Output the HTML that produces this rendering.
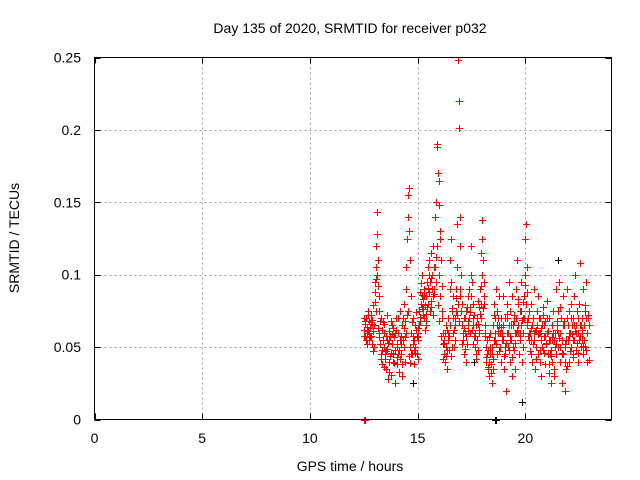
<!DOCTYPE html>
<html><head><meta charset="utf-8"><style>
body{margin:0;background:#fff}
svg{display:block;font-family:"Liberation Sans",sans-serif}
</style></head><body>
<svg id="chart" width="640" height="480" viewBox="0 0 640 480">
<rect width="640" height="480" fill="#fff"/>
<g id="grid"></g>
<g id="marks"></g>
<rect x="94.5" y="57.5" width="517" height="362" fill="none" stroke="#000" stroke-width="1"/>
<g id="ticks"></g>
<text x="350" y="33" font-size="14" text-anchor="middle">Day 135 of 2020, SRMTID for receiver p032</text>
<text x="350" y="471" font-size="14" text-anchor="middle">GPS time / hours</text>
<text x="19" y="238" font-size="14" text-anchor="middle" transform="rotate(-90 19 238)">SRMTID / TECUs</text>
</svg>
<script>
const xTicks=[0,5,10,15,20];
const yTicks=[0,0.05,0.1,0.15,0.2,0.25];
const yTickLabels=["0","0.05","0.1","0.15","0.2","0.25"];
const redTimes=[12.52,12.55,12.58,12.61,12.64,12.67,12.70,12.73,12.76,12.79,12.82,12.85,12.88,12.91,12.94,12.97,
13.00,13.03,13.06,13.09,13.11,13.13,13.15,13.17,13.19,13.21,13.24,13.27,13.30,13.33,13.36,13.39,
13.42,13.45,13.48,13.51,13.54,13.57,13.6,13.63,13.66,13.69,13.72,13.75,13.78,13.81,13.84,13.87,13.9,13.93,13.96,13.99,14.02,14.05,14.08,14.11,14.14,14.17,
14.2,14.23,14.26,14.29,14.32,14.35,14.38,14.41,14.44,14.47,14.5,14.53,14.56,14.59,14.62,14.65,14.68,
14.71,14.74,14.77,14.8,14.83,14.86,14.89,14.92,14.95,14.98,15.01,15.04,15.07,15.1,15.13,15.16,15.19,15.22,15.25,15.28,15.31,15.34,15.37,15.4,15.43,15.46,15.49,
15.52,15.55,15.58,15.61,15.64,15.67,15.7,15.73,15.76,15.79,15.82,15.85,15.88,15.91,15.94,15.97,16.0,16.03,16.06,16.09,16.12,16.15,16.18,16.21,16.24,16.27,16.3,16.33,16.36,16.39,16.42,16.45,16.48,
16.51,16.54,16.57,16.6,16.63,16.66,16.69,16.72,16.75,16.78,16.81,16.84,16.87,16.9,16.93,16.96,16.99,17.02,17.05,17.08,17.11,17.14,17.17,17.2,17.23,17.26,17.29,17.32,17.35,17.38,17.41,17.44,17.47,
17.5,17.53,17.56,17.59,17.62,17.65,17.68,17.71,17.74,17.77,17.8,17.83,17.86,17.89,17.92,17.95,17.98,18.01,18.04,18.07,18.1,18.13,18.16,18.19,18.22,18.25,18.28,18.31,18.34,18.37,18.4,18.43,18.46,18.49,18.52,18.55,18.58,18.61,18.64,18.67,18.7,18.73,18.76,
18.8,18.83,18.86,18.89,18.92,18.95,18.98,19.01,19.04,19.07,19.1,19.13,19.16,19.19,19.22,19.25,19.28,19.31,19.34,19.37,19.4,19.43,19.46,19.49,19.52,19.55,19.58,19.61,19.64,19.67,19.7,19.73,19.76,19.79,19.82,19.85,19.88,19.91,19.94,19.97,20.0,20.03,20.06,20.09,20.12,20.15,20.18,
20.21,20.24,20.27,20.3,20.33,20.36,20.39,20.42,20.45,20.48,20.51,20.54,20.57,20.6,20.63,20.66,20.69,20.72,20.75,20.78,20.81,20.84,20.87,20.9,20.93,20.96,20.99,21.02,21.05,21.08,21.11,21.14,21.17,21.2,21.23,21.26,21.29,21.32,21.35,21.38,21.41,21.44,21.47,
21.5,21.53,21.56,21.59,21.62,21.65,21.68,21.71,21.74,21.77,21.8,21.83,21.86,21.89,21.92,21.95,21.98,22.01,22.04,22.07,22.1,22.13,22.16,22.19,22.22,22.25,22.28,22.31,22.34,22.37,22.4,22.43,22.46,22.49,22.52,22.55,22.58,22.61,22.64,22.67,22.7,22.73,22.76,22.79,22.82,22.85,22.88,22.91];
const redValues=[.062,.066,.058,.070,.064,.060,.075,.068,.055,.063,.072,.058,.066,.061,.079,.050,
.088,.095,.105,.12,.143,.128,.11,.092,.075,.085,.068,.052,.045,.062,.038,.055,
.05,.066,.042,.058,.035,.072,.049,.028,.061,.055,.044,.068,.031,.052,.04,.063,.057,.025,.048,.07,.038,.052,.045,.06,.033,.055,
.075,.045,.065,.03,.055,.08,.05,.068,.09,.105,.125,.14,.155,.16,.13,.11,.085,
.06,.045,.07,.052,.038,.065,.05,.074,.045,.058,.042,.06,.075,.088,.068,.094,.078,.1,.083,.07,.09,.062,.085,.073,.095,.08,.105,
.088,.11,.095,.115,.078,.1,.085,.12,.09,.14,.105,.15,.19,.188,.17,.165,.148,.13,.125,.11,.092,.075,.06,.045,.055,.04,.065,.05,.035,.06,.07,.048,.09,
.11,.125,.095,.075,.06,.085,.05,.07,.065,.09,.105,.135,.248,.22,.201,.14,.12,.1,.08,.065,.055,.07,.045,.06,.04,.075,.052,.085,.068,.09,.078,.06,.1,
.12,.095,.08,.065,.072,.05,.06,.045,.07,.055,.082,.062,.078,.09,.07,.115,.138,.125,.11,.095,.08,.065,.05,.04,.055,.035,.048,.03,.045,.06,.038,.025,.05,.035,.065,.08,.07,.055,.09,.045,.075,.06,.085,
.065,.05,.07,.04,.06,.085,.055,.035,.07,.045,.02,.06,.08,.05,.095,.065,.04,.075,.055,.085,.03,.065,.048,.072,.035,.06,.09,.11,.08,.06,.045,.075,.055,.095,.065,.04,.07,.05,.085,.1,.125,.135,.105,.088,.07,.055,.075,
.06,.045,.08,.065,.04,.07,.055,.09,.035,.062,.05,.075,.045,.085,.06,.04,.07,.055,.03,.065,.048,.078,.058,.038,.068,.052,.082,.06,.045,.07,.032,.055,.025,.048,.065,.04,.075,.055,.03,.06,.045,.09,.068,
.05,.075,.095,.06,.04,.07,.025,.055,.085,.045,.065,.02,.05,.035,.07,.09,.055,.04,.075,.06,.08,.05,.065,.045,.07,.085,.055,.1,.065,.048,.075,.06,.04,.08,.065,.108,.05,.07,.055,.09,.045,.065,.075,.05,.095,.06,.04,.07];
const redTimes2=[12.53,12.6,12.68,12.75,12.83,12.9,12.98,13.05,13.12,13.2,13.28,13.35,13.44,13.5,13.58,13.65,13.73,13.8,13.88,13.95,14.03,14.1,14.18,14.25,14.33,14.4,14.48,14.55,14.63,14.7,14.78,14.85,14.93,15.0,15.08,15.15,15.23,15.3,15.38,15.45,15.53,15.6,15.68,15.75,15.83,15.9,15.98,16.05,16.13,16.2,16.28,16.35,16.43,16.5,16.58,16.65,16.73,16.8,16.88,16.95,17.03,17.1,17.18,17.25,17.33,17.4,17.48,17.55,17.63,17.7,17.78,17.85,17.93,18.0,18.08,18.15,18.23,18.3,18.38,18.45,18.53,18.6,18.68,18.75,18.83,18.9,18.98,19.05,19.13,19.2,19.28,19.35,19.43,19.5,19.58,19.65,19.73,19.8,19.88,19.95,20.03,20.1,20.18,20.25,20.33,20.4,20.48,20.55,20.63,20.7,20.78,20.85,20.93,21.0,21.08,21.15,21.23,21.3,21.38,21.45,21.53,21.6,21.68,21.75,21.83,21.9,21.98,22.05,22.13,22.2,22.28,22.35,22.43,22.5,22.58,22.65,22.73,22.8,22.88,22.95];
const redValues2=[.07,.055,.072,.06,.067,.052,.065,.075,.1,.06,.07,.048,.06,.045,.055,.04,.058,.065,.045,.06,.05,.07,.042,.058,.07,.04,.06,.075,.05,.045,.058,.048,.062,.055,.065,.08,.072,.085,.068,.078,.1,.082,.09,.105,.095,.12,.1,.085,.07,.052,.06,.048,.055,.065,.05,.07,.055,.075,.08,.09,.075,.06,.07,.058,.065,.07,.085,.07,.058,.065,.048,.06,.08,.1,.085,.06,.045,.04,.05,.045,.055,.06,.065,.07,.06,.055,.065,.05,.07,.06,.055,.065,.05,.06,.07,.065,.06,.075,.06,.07,.08,.065,.06,.055,.065,.06,.05,.065,.07,.06,.05,.065,.058,.07,.055,.045,.055,.06,.05,.065,.06,.05,.045,.065,.04,.055,.065,.06,.07,.055,.065,.06,.07,.055,.065,.06,.055,.07,.06,.065];
const redTimes3=[12.5,12.57,12.63,12.71,12.78,12.86,12.93,13.02,13.08,13.16,13.23,13.31,13.38,13.46,13.53,13.61,13.68,13.76,13.83,13.91,13.98,14.06,14.13,14.21,14.28,14.36,14.43,14.51,14.58,14.66,14.73,14.81,14.88,14.96,15.03,15.11,15.18,15.26,15.33,15.41,15.48,15.56,15.63,15.71,15.78,15.86,15.93,16.01,16.08,16.16,16.23,16.31,16.38,16.46,16.53,16.61,16.68,16.76,16.83,16.91,16.98,17.06,17.13,17.21,17.28,17.36,17.43,17.51,17.58,17.66,17.73,17.81,17.88,17.96,18.03,18.11,18.18,18.26,18.33,18.41,18.48,18.56,18.63,18.71,18.78,18.86,18.93,19.01,19.08,19.16,19.23,19.31,19.38,19.46,19.53,19.61,19.68,19.76,19.83,19.91,19.98,20.06,20.13,20.21,20.28,20.36,20.43,20.51,20.58,20.66,20.73,20.81,20.88,20.96,21.03,21.11,21.18,21.26,21.33,21.41,21.48,21.56,21.63,21.71,21.78,21.86,21.93,22.01,22.08,22.16,22.23,22.31,22.38,22.46,22.53,22.61,22.68,22.76,22.83,22.9,22.97];
const redValues3=[.058,.068,.052,.061,.057,.069,.047,.081,.097,.063,.057,.042,.067,.036,.047,.053,.033,.046,.059,.039,.062,.043,.048,.052,.038,.063,.057,.072,.044,.039,.067,.055,.046,.057,.063,.071,.086,.076,.079,.065,.091,.075,.098,.072,.087,.112,.079,.068,.058,.042,.053,.044,.062,.058,.044,.077,.062,.084,.072,.068,.085,.052,.063,.049,.078,.061,.074,.062,.052,.058,.042,.066,.073,.092,.077,.058,.043,.036,.057,.032,.042,.072,.052,.061,.047,.064,.058,.044,.053,.073,.048,.058,.043,.068,.053,.062,.083,.058,.069,.081,.093,.067,.058,.047,.063,.052,.061,.042,.059,.048,.063,.072,.046,.053,.061,.038,.044,.057,.035,.052,.062,.056,.078,.046,.068,.052,.037,.058,.047,.059,.043,.061,.053,.046,.058,.062,.051,.079,.048,.072,.041,.056,.064];
const blackTimes=[14.8,17.6,19.85,21.5];
const blackValues=[.025,.04,.012,.11];
const zeroRedTimes=[12.52,12.56];
const zeroBlackTimes=[18.58,18.64];

const X0=94.5,X1=611.5,Y0=419.5,Y1=57.5;
const xs=t=>X0+(t/24)*(X1-X0);
const ys=v=>Y0-(v/0.25)*(Y0-Y1);
const NS="http://www.w3.org/2000/svg";
const grid=document.getElementById('grid'),ticks=document.getElementById('ticks'),marks=document.getElementById('marks');
function mk(tag,attrs,parent){const e=document.createElementNS(NS,tag);for(const k in attrs)e.setAttribute(k,attrs[k]);parent.appendChild(e);return e;}
xTicks.forEach(t=>{
  const x=Math.round(xs(t))+0.5;
  if(t>0){const g=mk('line',{x1:x,x2:x,y1:Y1,y2:Y0,stroke:'#a0a0a0','stroke-dasharray':'2,3'},grid);
  
  }
  const a=mk('line',{x1:x,x2:x,y1:Y0,y2:Y0-6,stroke:'#000'},ticks);
  
  
  const b=mk('line',{x1:x,x2:x,y1:Y1,y2:Y1+6,stroke:'#000'},ticks);
  
  
  const l=mk('text',{x:xs(t),y:443,'font-size':14,'text-anchor':'middle'},ticks);l.textContent=String(t);
  
  
});
yTicks.forEach((v,i)=>{
  const y=Math.round(ys(v))+0.5;
  if(v>0&&v<0.25){const g=mk('line',{x1:X0,x2:X1,y1:y,y2:y,stroke:'#a0a0a0','stroke-dasharray':'2,3'},grid);
  
  }
  const a=mk('line',{x1:X0,x2:X0+6,y1:y,y2:y,stroke:'#000'},ticks);
  
  
  const b=mk('line',{x1:X1,x2:X1-6,y1:y,y2:y,stroke:'#000'},ticks);
  
  
  const l=mk('text',{x:81,y:ys(v)+5,'font-size':14,'text-anchor':'end'},ticks);l.textContent=yTickLabels[i];
  
  
});
function plus(t,v,color,name){
  const x=Math.round(xs(t))+0.5,y=Math.round(ys(v))+0.5;
  const p=mk('path',{d:`M${x-3.5} ${y}H${x+3.5}M${x} ${y-3.5}V${y+3.5}`,stroke:color,'stroke-width':1,fill:'none'},marks);
  
  
}
blackTimes.forEach((t,i)=>plus(t,blackValues[i],'#000','black-point'));
zeroBlackTimes.forEach(t=>plus(t,0,'#000','black-zero-point'));
redTimes.forEach((t,i)=>plus(t,redValues[i],'#ff0000','red-point'));
redTimes2.forEach((t,i)=>plus(t,redValues2[i],'#ff0000','red-point'));
redTimes3.forEach((t,i)=>plus(t,redValues3[i],'#ff0000','red-point'));
zeroRedTimes.forEach(t=>plus(t,0,'#ff0000','red-zero-point'));
</script>
</body></html>
